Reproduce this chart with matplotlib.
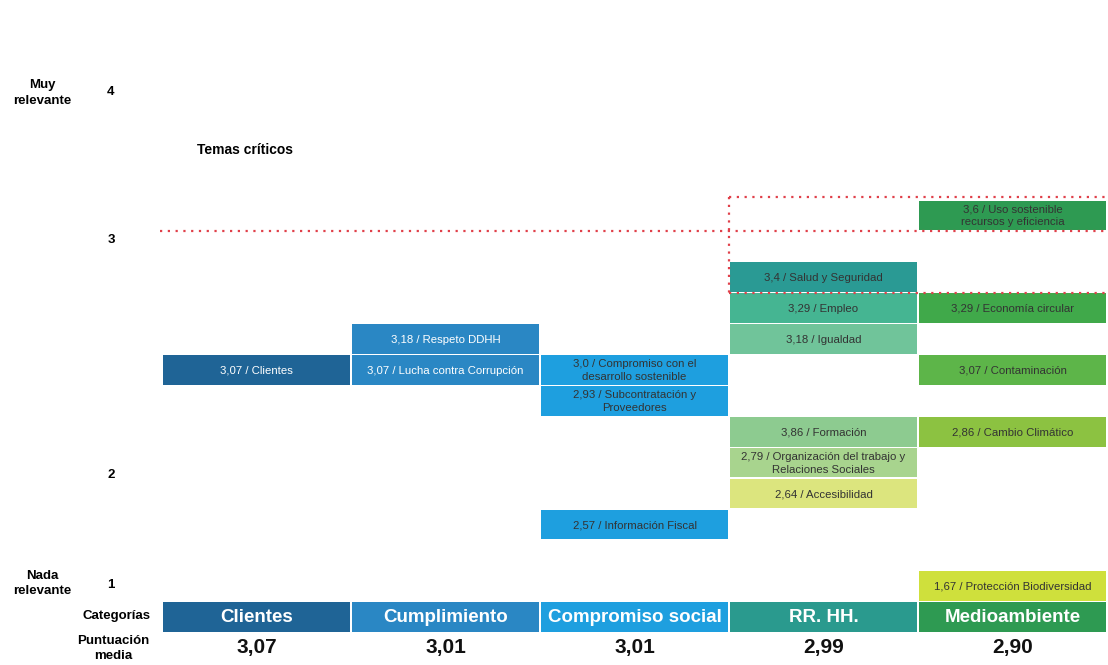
import matplotlib.pyplot as plt

plt.rcParams['font.family'] = ['Liberation Sans', 'DejaVu Sans']

# Categorías y puntuación media de cada una
categorias = ["Clientes", "Cumplimiento", "Compromiso social", "RR. HH.", "Medioambiente"]
puntuacion_media = [3.07, 3.01, 3.01, 2.99, 2.90]

# Temas materiales por categoría
temas_clientes = ["Clientes"]
valores_clientes = [3.07]

temas_cumplimiento = ["Respeto DDHH", "Lucha contra Corrupción"]
valores_cumplimiento = [3.18, 3.07]

temas_compromiso = ["Compromiso con el\ndesarrollo sostenible",
                    "Subcontratación y\nProveedores",
                    "Información Fiscal"]
valores_compromiso = [3.0, 2.93, 2.57]

temas_rrhh = ["Salud y Seguridad", "Empleo", "Igualdad", "Formación",
              "Organización del trabajo y\nRelaciones Sociales", "Accesibilidad"]
valores_rrhh = [3.4, 3.29, 3.18, 3.86, 2.79, 2.64]

temas_medio = ["Uso sostenible\nrecursos y eficiencia", "Economía circular",
               "Contaminación", "Cambio Climático", "Protección Biodiversidad"]
valores_medio = [3.6, 3.29, 3.07, 2.86, 1.67]

# Fila del esquema en la que se coloca cada tema (0 = arriba)
filas = [
    [5],
    [4, 5],
    [5, 6, 10],
    [2, 3, 4, 7, 8, 9],
    [0, 3, 5, 7, 12],
]

colores_cabecera = ["#1f6496", "#2a87c4", "#1e9fdf", "#2a9a8e", "#2e9a52"]
colores_temas = [
    ["#1f6496"],
    ["#2a87c4", "#2a87c4"],
    ["#1e9fdf", "#1e9fdf", "#1e9fdf"],
    ["#2a9a94", "#45b592", "#70c49a", "#8dcb90", "#a8d48e", "#dce57e"],
    ["#2e9a52", "#40a94a", "#5db549", "#8cc241", "#cfe03c"],
]
texto_blanco = [True, True, False, False, False]

temas = [temas_clientes, temas_cumplimiento, temas_compromiso, temas_rrhh, temas_medio]
valores = [valores_clientes, valores_cumplimiento, valores_compromiso, valores_rrhh, valores_medio]


def fmt_tema(v):
    s = f"{v:.2f}"
    if s.endswith("0"):
        s = s[:-1]
    return s.replace(".", ",")


fig = plt.figure(figsize=(11.08, 6.65), dpi=100)
ax = fig.add_axes([0, 0, 1, 1])
ax.set_xlim(-0.857, 5.005)
ax.set_ylim(15.03, -6.49)
ax.axis('off')

ANCHO = 0.985
ALTO = 0.96
FILA_CAT = 13

for i, cat in enumerate(categorias):
    x = i + 0.5
    ax.bar(x, ALTO, bottom=FILA_CAT, width=ANCHO, color=colores_cabecera[i], align='center')
    ax.text(x, FILA_CAT + 0.5, cat, ha='center', va='center', color='white',
            fontsize=13.5, fontweight='bold')
    ax.text(x, 14.45, f"{puntuacion_media[i]:.2f}".replace(".", ","), ha='center', va='center',
            color='#111111', fontsize=15, fontweight='bold')

    color_txt = 'white' if texto_blanco[i] else '#333333'
    for tema, v, fila, col in zip(temas[i], valores[i], filas[i], colores_temas[i]):
        ax.bar(x, ALTO, bottom=fila, width=ANCHO, color=col, align='center')
        ax.text(x, fila + ALTO / 2 + 0.02, f"{fmt_tema(v)} / {tema}", ha='center', va='center',
                color=color_txt, fontsize=8.2, linespacing=1.35)

# Zona de temas críticos
rojo = '#e0404a'
punteado = dict(color=rojo, linestyle=(0, (1, 2.5)), linewidth=1.6, zorder=5)
ax.plot([-0.01, 5.01], [1, 1], **punteado)
ax.plot([3.0, 5.01], [-0.1, -0.1], **punteado)
ax.plot([3.0, 3.0], [-0.1, 3], **punteado)
ax.plot([3.0, 5.01], [3, 3], **punteado)

# Escala de relevancia a la izquierda
for etiqueta, fila in zip(["4", "3", "2", "1"], [-3.51, 1.28, 8.88, 12.44]):
    ax.text(-0.27, fila, etiqueta, ha='center', va='center', fontsize=9.5, fontweight='bold')

ax.text(-0.635, -3.48, "Muy\nrelevante", ha='center', va='center', fontsize=9.5,
        fontweight='bold', linespacing=1.4)
ax.text(-0.635, 12.4, "Nada\nrelevante", ha='center', va='center', fontsize=9.5,
        fontweight='bold', linespacing=1.3)
ax.text(0.185, -1.63, "Temas críticos", ha='left', va='center', fontsize=10, fontweight='bold')
ax.text(-0.06, FILA_CAT + 0.45, "Categorías", ha='right', va='center', fontsize=9.5,
        fontweight='bold')
ax.text(-0.26, 14.5, "Puntuación\nmedia", ha='center', va='center', fontsize=9.5,
        fontweight='bold', linespacing=1.3)

fig.savefig('out.png', dpi=100)
